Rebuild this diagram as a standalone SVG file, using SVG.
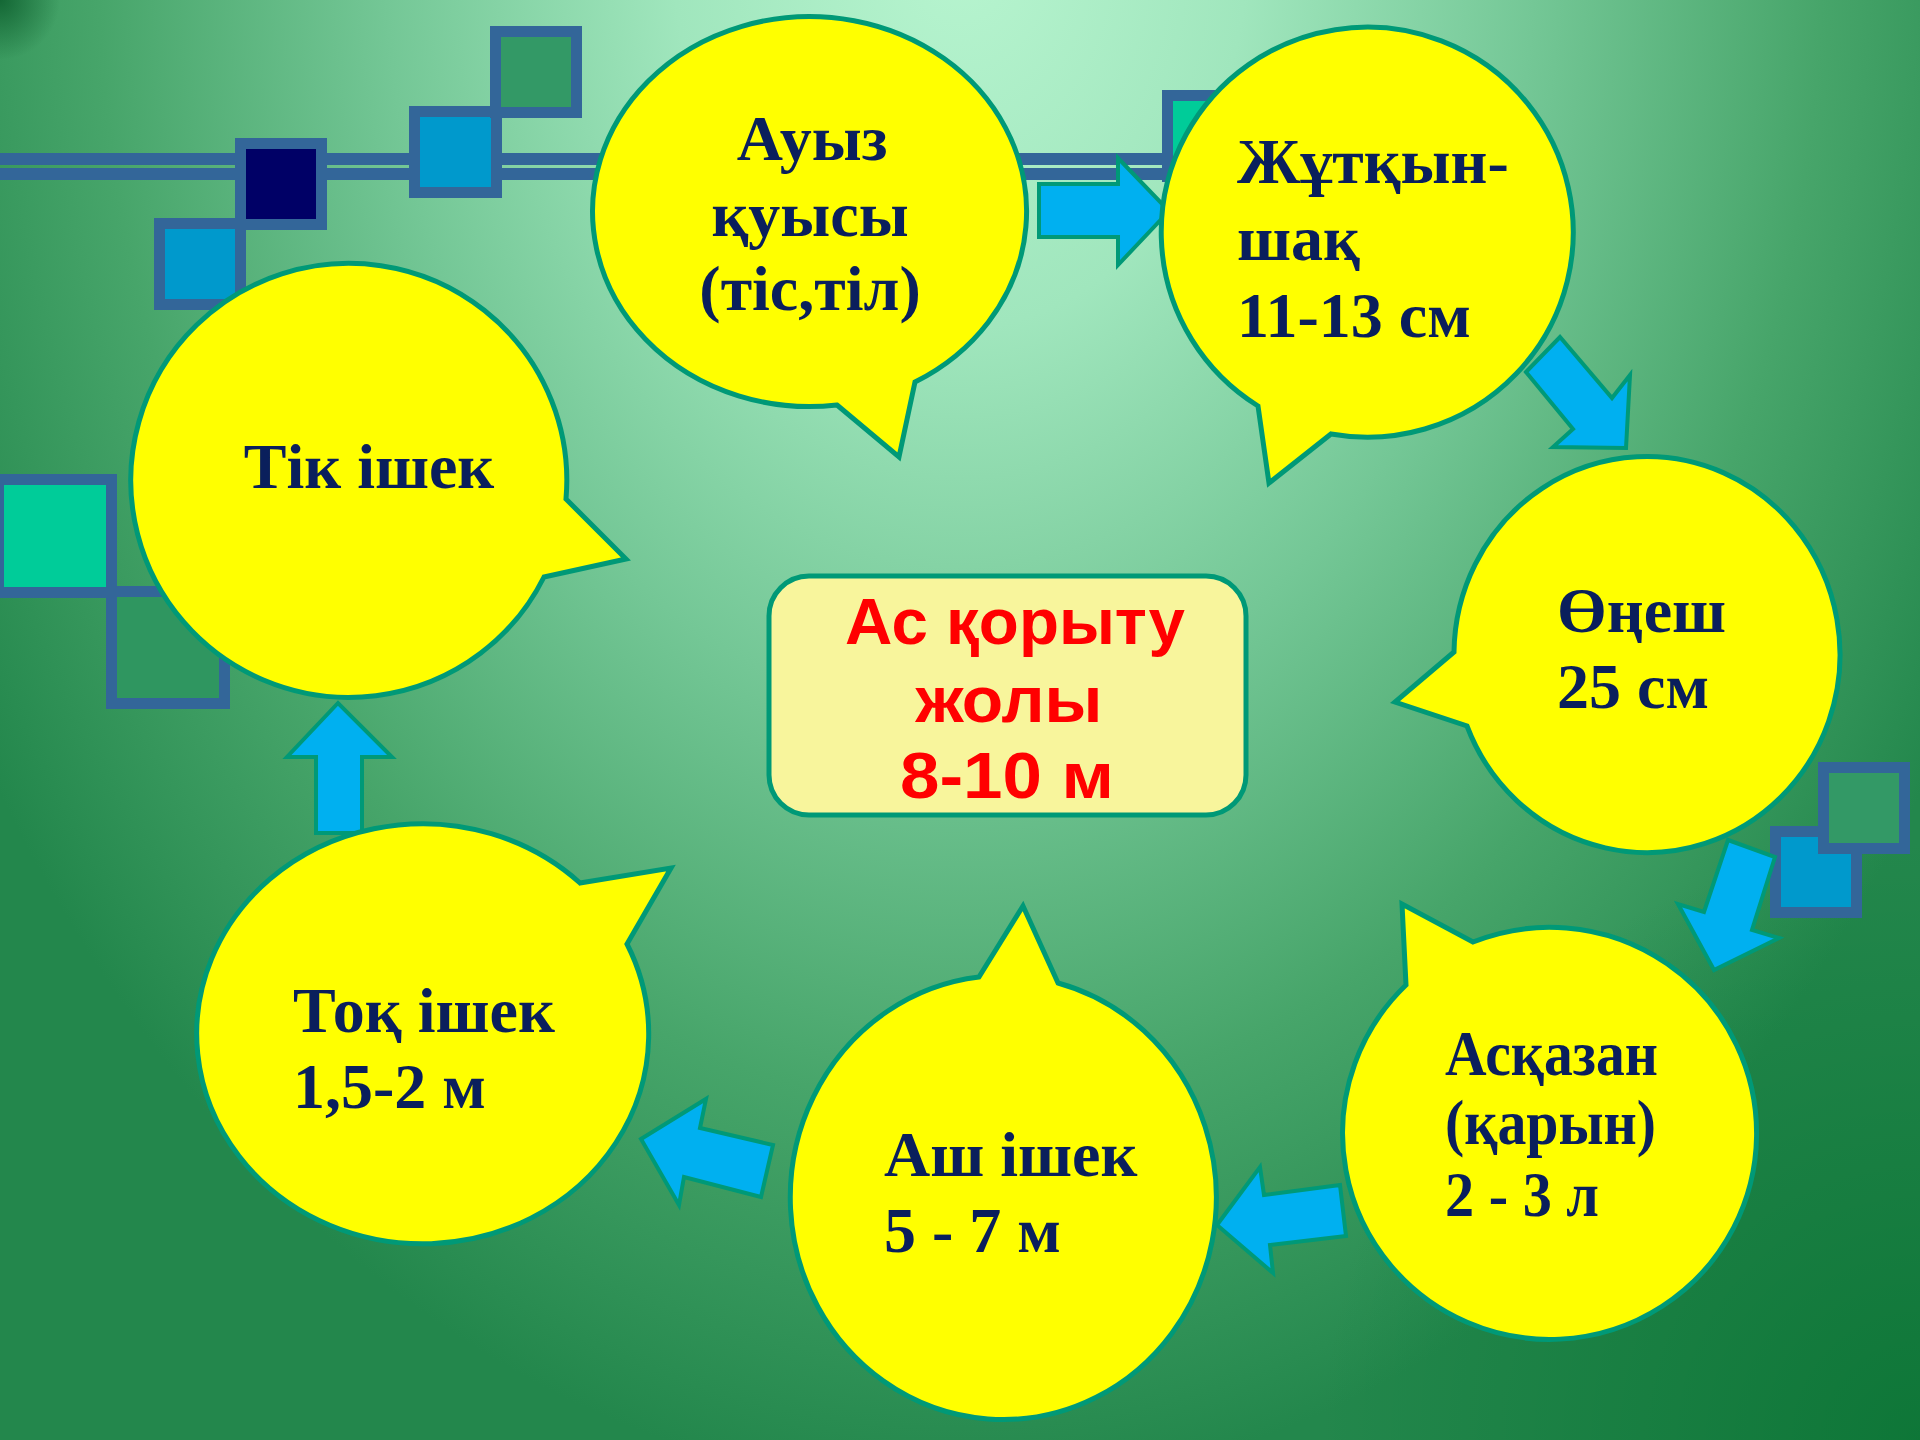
<svg xmlns="http://www.w3.org/2000/svg" width="1920" height="1440" viewBox="0 0 1920 1440">
<defs>
<radialGradient id="bg" gradientUnits="userSpaceOnUse" cx="0" cy="0" r="1150" gradientTransform="translate(960,-60) scale(1,1.35)">
<stop offset="0" stop-color="#b8f5d0"/>
<stop offset="0.25" stop-color="#a0e6bd"/>
<stop offset="0.5" stop-color="#74c796"/>
<stop offset="0.75" stop-color="#47a56a"/>
<stop offset="1" stop-color="#23874c"/>
</radialGradient>
<radialGradient id="br" gradientUnits="userSpaceOnUse" cx="1920" cy="1440" r="600">
<stop offset="0" stop-color="#006b2a" stop-opacity="0.6"/>
<stop offset="1" stop-color="#006b2a" stop-opacity="0"/>
</radialGradient>
<radialGradient id="tl" gradientUnits="userSpaceOnUse" cx="0" cy="0" r="60">
<stop offset="0" stop-color="#0a5a2a" stop-opacity="0.8"/>
<stop offset="1" stop-color="#0a5a2a" stop-opacity="0"/>
</radialGradient>
<style>
.bub{fill:#ffff00;stroke:#009977;stroke-width:5;stroke-linejoin:miter}
.arr{fill:#00b0f0;stroke:#009977;stroke-width:4;stroke-linejoin:miter}
.sq{stroke:#336699;stroke-width:11}
.ln{fill:#336699}
.t{font-family:"Liberation Serif","Times New Roman",serif;font-weight:bold;font-size:64px;fill:#0a1f5c}
.ct{font-family:"Liberation Sans",Arial,sans-serif;font-weight:bold;font-size:64px;fill:#ff0000;text-anchor:middle}
</style>
</defs>
<rect width="1920" height="1440" fill="url(#bg)"/>
<rect width="1920" height="1440" fill="url(#br)"/>
<rect width="80" height="80" fill="url(#tl)"/>

<g id="decor">
<rect class="ln" x="0" y="153" width="1165" height="12"/>
<rect class="ln" x="0" y="168" width="1165" height="12"/>
<rect class="sq" x="1167.5" y="95.5" width="81" height="81" fill="#00cc99"/>
<rect class="sq" x="159.5" y="223.5" width="81" height="81" fill="#0099cc"/>
<rect class="sq" x="240.5" y="143.5" width="81" height="81" fill="#000066"/>
<rect class="sq" x="414.5" y="111.5" width="82" height="81" fill="#0099cc"/>
<rect class="sq" x="495.5" y="31.5" width="81" height="81" fill="#339966"/>
<rect class="sq" x="111.5" y="591.5" width="113" height="112" fill="#2f9660"/>
<rect class="sq" x="-1.5" y="479.5" width="113" height="113" fill="#00cc99"/>
<rect class="sq" x="1775.5" y="831.5" width="81" height="81" fill="#0099cc"/>
<rect class="sq" x="1823.5" y="767.5" width="81" height="81" fill="#339966"/>
</g>

<g id="connectors">
<polygon class="arr" points="1039,184 1118,184 1118,158 1169,211 1118,265 1118,237 1039,237"/>
<polygon class="arr" points="1526,372 1560,337 1612,398 1630,375 1626,448 1553,447 1573,429"/>
<polygon class="arr" points="1728,840 1775,857 1752,930 1779,938 1714,970 1678,904 1704,912"/>
<polygon class="arr" points="1340,1185 1346,1236 1270,1245 1273,1273 1217,1225 1260,1167 1264,1195"/>
<polygon class="arr" points="773,1145 761,1197 684,1177 679,1205 641,1139 706,1099 700,1128"/>
<polygon class="arr" points="316,833 316,757 287,757 338,703 392,757 362,757 362,833"/>
</g>

<g id="node-auyz">
<path class="bub" d="M837,405 L899,457 L915,382 A217,195 0 1 0 837,405 Z"/>
<text class="t" text-anchor="middle" x="812" y="160">Ауыз</text>
<text class="t" text-anchor="middle" x="810" y="236">қуысы</text>
<text class="t" text-anchor="middle" x="810" y="310">(тіс,тіл)</text>
</g>

<g id="node-zhutqynshaq">
<path class="bub" d="M1258,406 L1269,483 L1331,434 A206,205 0 1 0 1258,406 Z"/>
<text class="t" x="1237" y="183">Жұтқын-</text>
<text class="t" x="1237" y="260">шақ</text>
<text class="t" x="1237" y="337">11-13 см</text>
</g>

<g id="node-onesh">
<path class="bub" d="M1454,652 L1395,702 L1467,726 A193,198 0 1 0 1454,652 Z"/>
<text class="t" x="1557" y="632">Өңеш</text>
<text class="t" x="1557" y="708">25 см</text>
</g>

<g id="node-asqazan">
<path class="bub" d="M1406,985 L1402,904 L1473,942 A207,206 0 1 1 1406,985 Z"/>
<text class="t" x="1445" y="1075" textLength="213" lengthAdjust="spacingAndGlyphs">Асқазан</text>
<text class="t" x="1445" y="1144" textLength="211" lengthAdjust="spacingAndGlyphs">(қарын)</text>
<text class="t" x="1445" y="1216" textLength="154" lengthAdjust="spacingAndGlyphs">2 - 3 л</text>
</g>

<g id="node-ash-ishek">
<path class="bub" d="M979,977 L1023,906 L1058,983 A213,222 0 1 1 979,977 Z"/>
<text class="t" x="884" y="1176">Аш ішек</text>
<text class="t" x="884" y="1252">5 - 7 м</text>
</g>

<g id="node-toq-ishek">
<path class="bub" d="M580,883 L671,868 L627,944 A226,210 0 1 1 580,883 Z"/>
<text class="t" x="293" y="1032">Тоқ ішек</text>
<text class="t" x="293" y="1108">1,5-2 м</text>
</g>

<g id="node-tik-ishek">
<path class="bub" d="M566,499 L626,559 L544,577 A218,217 0 1 1 566,499 Z"/>
<text class="t" text-anchor="middle" x="369" y="488">Тік ішек</text>
</g>

<g id="node-center">
<rect x="769" y="576" width="477" height="239" rx="40" ry="40" fill="#f8f59c" stroke="#009977" stroke-width="5"/>
<text class="ct" x="1015" y="644" textLength="340" lengthAdjust="spacingAndGlyphs">Ас қорыту</text>
<text class="ct" x="1009" y="722" textLength="187" lengthAdjust="spacingAndGlyphs">жолы</text>
<text class="ct" x="1007" y="798" textLength="214" lengthAdjust="spacingAndGlyphs">8-10 м</text>
</g>
</svg>
